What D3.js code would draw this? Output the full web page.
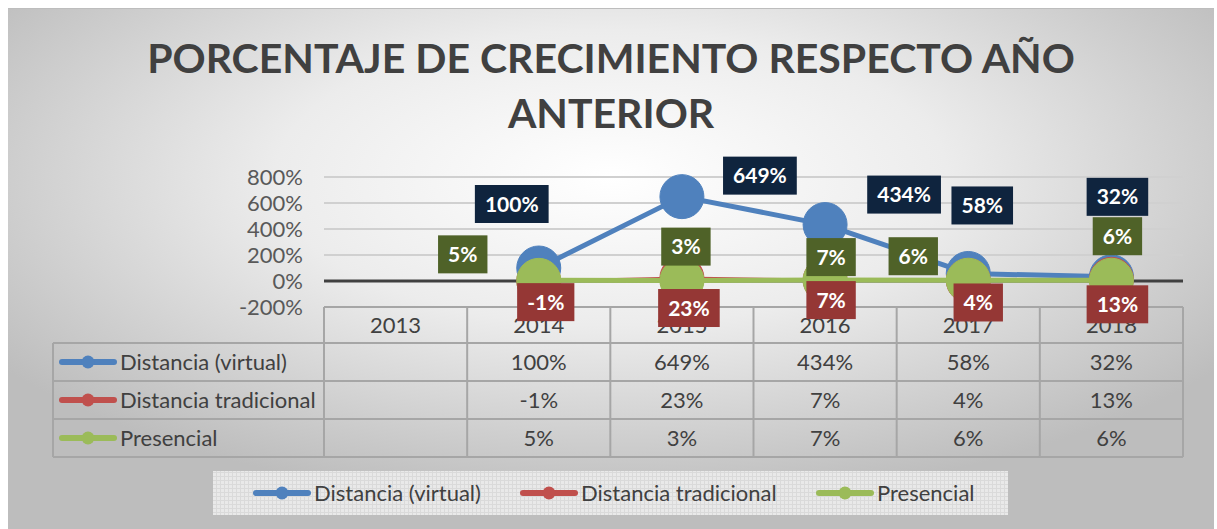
<!DOCTYPE html>
<html>
<head>
<meta charset="utf-8">
<script src="https://cdn.jsdelivr.net/npm/d3@7"></script>
<style>
    body { margin: 0; background: #ffffff; }
    svg { display: block; font-family: Lato, "Open Sans", sans-serif; }
</style>
</head>
<body>
<script>
// chart values
const years = ["2013", "2014", "2015", "2016", "2017", "2018"];
const seriesNames = ["Distancia (virtual)", "Distancia tradicional", "Presencial"];
const virtualValues = [null, 100, 649, 434, 58, 32];
const tradicionalValues = [null, -1, 23, 7, 4, 13];
const presencialValues = [null, 5, 3, 7, 6, 6];
const yTicks = [-200, 0, 200, 400, 600, 800];

// styles, one entry per series
const lineColors = ["#4f81bd", "#c0504d", "#9bbb59"];
const labelFills = ["#0f243e", "#953735", "#4f6228"];

// label nudges (dx, dy from the point), labels were dragged by hand in the original
const labelNudge = [
    [null, [-27, -64], [78, -21], [79, -30], [14, -68], [6, -80]],
    [null, [7, 21], [7, 30], [6, 20], [10, 22], [6, 25]],
    [null, [-76, -26], [4, -34], [6, -23], [-55, -24], [6, -44]]
];

const series = [virtualValues, tradicionalValues, presencialValues].map((values, i) => ({
    name: seriesNames[i],
    color: lineColors[i],
    labelFill: labelFills[i],
    values: values.map((v, j) => ({ year: years[j], value: v, nudge: labelNudge[i][j] }))
}));

const width = 1217;
const height = 529;
const svg = d3.select("body").append("svg").attr("width", width).attr("height", height);

const defs = svg.append("defs");
const bg = defs.append("radialGradient").attr("id", "bg").attr("cx", "50%").attr("cy", "32%").attr("r", "62%");
bg.append("stop").attr("offset", "0%").attr("stop-color", "#ffffff");
bg.append("stop").attr("offset", "45%").attr("stop-color", "#ececec");
bg.append("stop").attr("offset", "100%").attr("stop-color", "#bdbdbd");

const texture = defs.append("pattern").attr("id", "texture").attr("width", 4).attr("height", 4)
    .attr("patternUnits", "userSpaceOnUse");
texture.append("rect").attr("width", 4).attr("height", 4).attr("fill", "#e9e9e9");
texture.append("path").attr("d", "M0 0.5H4M0.5 0V4").attr("stroke", "#dadada").attr("stroke-width", 1);

// chart area
svg.append("rect").attr("x", 8).attr("y", 8).attr("width", 1206).attr("height", 530).attr("fill", "url(#bg)");
svg.append("line").attr("x1", 8).attr("x2", 1214).attr("y1", 8.5).attr("y2", 8.5).attr("stroke", "#bdbdbd");

// title
const title = svg.append("text").attr("text-anchor", "middle").attr("fill", "#404040")
    .style("font-weight", "bold").style("font-size", "41px");
title.append("tspan").attr("x", 611).attr("y", 73).text("PORCENTAJE DE CRECIMIENTO RESPECTO AÑO");
title.append("tspan").attr("x", 611).attr("y", 128).text("ANTERIOR");

// scales
const x = d3.scaleBand().domain(years).range([324, 1183]);
const y = d3.scaleLinear().domain([-200, 800]).range([307, 177]);
const cx = (d) => x(d) + x.bandwidth() / 2;

// gridlines
svg.append("g").selectAll("line").data(yTicks.filter((t) => t !== 0 && t !== -200)).join("line")
    .attr("x1", x.range()[0]).attr("x2", x.range()[1])
    .attr("y1", (d) => y(d)).attr("y2", (d) => y(d))
    .attr("stroke", "#d0d0d0").attr("stroke-width", 2);

// y axis labels
const yAxis = svg.append("g").attr("transform", "translate(303,0)")
    .call(d3.axisLeft(y).tickValues(yTicks).tickSize(0).tickPadding(0).tickFormat((d) => d + "%"));
yAxis.select(".domain").remove();
yAxis.selectAll("text").attr("fill", "#595959").style("font-size", "22px")
    .style("font-family", "Lato, sans-serif").attr("dy", "0.35em");

// zero line
svg.append("line").attr("x1", x.range()[0]).attr("x2", x.range()[1])
    .attr("y1", y(0)).attr("y2", y(0)).attr("stroke", "#404040").attr("stroke-width", 3);

// data table
const rowH = 38;
const tableTop = y(-200);
const headerH = 36;
const table = svg.append("g").attr("fill", "none").attr("stroke", "#a6a6a6").attr("stroke-width", 2);
const tableLeft = 53;
const rowsTop = tableTop + headerH;
const tableBottom = rowsTop + rowH * series.length;
table.append("line").attr("x1", x.range()[0]).attr("x2", x.range()[1]).attr("y1", tableTop).attr("y2", tableTop);
for (let i = 0; i <= series.length; i++) {
    table.append("line").attr("x1", tableLeft).attr("x2", x.range()[1])
        .attr("y1", rowsTop + i * rowH).attr("y2", rowsTop + i * rowH);
}
table.append("line").attr("x1", tableLeft).attr("x2", tableLeft).attr("y1", rowsTop).attr("y2", tableBottom);
years.forEach((yr) => {
    table.append("line").attr("x1", x(yr)).attr("x2", x(yr)).attr("y1", tableTop).attr("y2", tableBottom);
});
table.append("line").attr("x1", x.range()[1]).attr("x2", x.range()[1]).attr("y1", tableTop).attr("y2", tableBottom);

const cellText = svg.append("g").attr("fill", "#404040").style("font-size", "22px");
cellText.selectAll("text.year").data(years).join("text").attr("class", "year")
    .attr("x", cx).attr("y", tableTop + headerH / 2).attr("dy", "0.35em").attr("text-anchor", "middle")
    .text((d) => d);

function legendKey(g, color) {
    g.append("line").attr("x1", 0).attr("x2", 52).attr("stroke", color)
        .attr("stroke-width", 6).attr("stroke-linecap", "round");
    g.append("circle").attr("cx", 26).attr("r", 6.5).attr("fill", color);
}

series.forEach((s, i) => {
    const rowY = rowsTop + i * rowH + rowH / 2;
    const key = svg.append("g").attr("transform", `translate(62,${rowY})`);
    legendKey(key, s.color);
    cellText.append("text").attr("x", 120).attr("y", rowY).attr("dy", "0.35em").text(s.name);
    cellText.selectAll(null).data(s.values.filter((d) => d.value !== null)).join("text")
        .attr("x", (d) => cx(d.year)).attr("y", rowY).attr("dy", "0.35em").attr("text-anchor", "middle")
        .text((d) => d.value + "%");
});

// lines and markers
const line = d3.line().defined((d) => d.value !== null).x((d) => cx(d.year)).y((d) => y(d.value));
const lineWidths = [5, 3, 5];
series.forEach((s, i) => {
    const g = svg.append("g");
    g.append("path").datum(s.values).attr("d", line).attr("fill", "none")
        .attr("stroke", s.color).attr("stroke-width", lineWidths[i]).attr("stroke-linejoin", "round");
    g.selectAll("circle").data(s.values.filter((d) => d.value !== null)).join("circle")
        .attr("cx", (d) => cx(d.year)).attr("cy", (d) => y(d.value)).attr("r", 22)
        .attr("fill", s.color).attr("stroke", s.color).attr("stroke-width", 1);
});

// data labels
const labelLayer = svg.append("g");
series.forEach((s) => {
    s.values.filter((d) => d.value !== null).forEach((d) => {
        const lx = cx(d.year) + d.nudge[0];
        const ly = y(d.value) + d.nudge[1];
        const g = labelLayer.append("g").attr("transform", `translate(${lx},${ly})`);
        const box = g.append("rect").attr("fill", s.labelFill);
        const t = g.append("text").attr("text-anchor", "middle").attr("dy", "0.36em")
            .attr("fill", "#ffffff").style("font-weight", "bold").style("font-size", "21px")
            .text(d.value + "%");
        const w = t.node().getComputedTextLength() + 20;
        box.attr("x", -w / 2).attr("y", -19).attr("width", w).attr("height", 38);
    });
});

// legend
const legend = svg.append("g");
legend.append("rect").attr("x", 213).attr("y", 471).attr("width", 795).attr("height", 44).attr("fill", "url(#texture)");
const legendX = [253, 520, 816];
series.forEach((s, i) => {
    const g = legend.append("g").attr("transform", `translate(${legendX[i] + 3},493)`);
    legendKey(g, s.color);
    g.append("text").attr("x", 58).attr("dy", "0.35em").attr("fill", "#404040")
        .style("font-size", "22px").text(s.name);
});
</script>
</body>
</html>
